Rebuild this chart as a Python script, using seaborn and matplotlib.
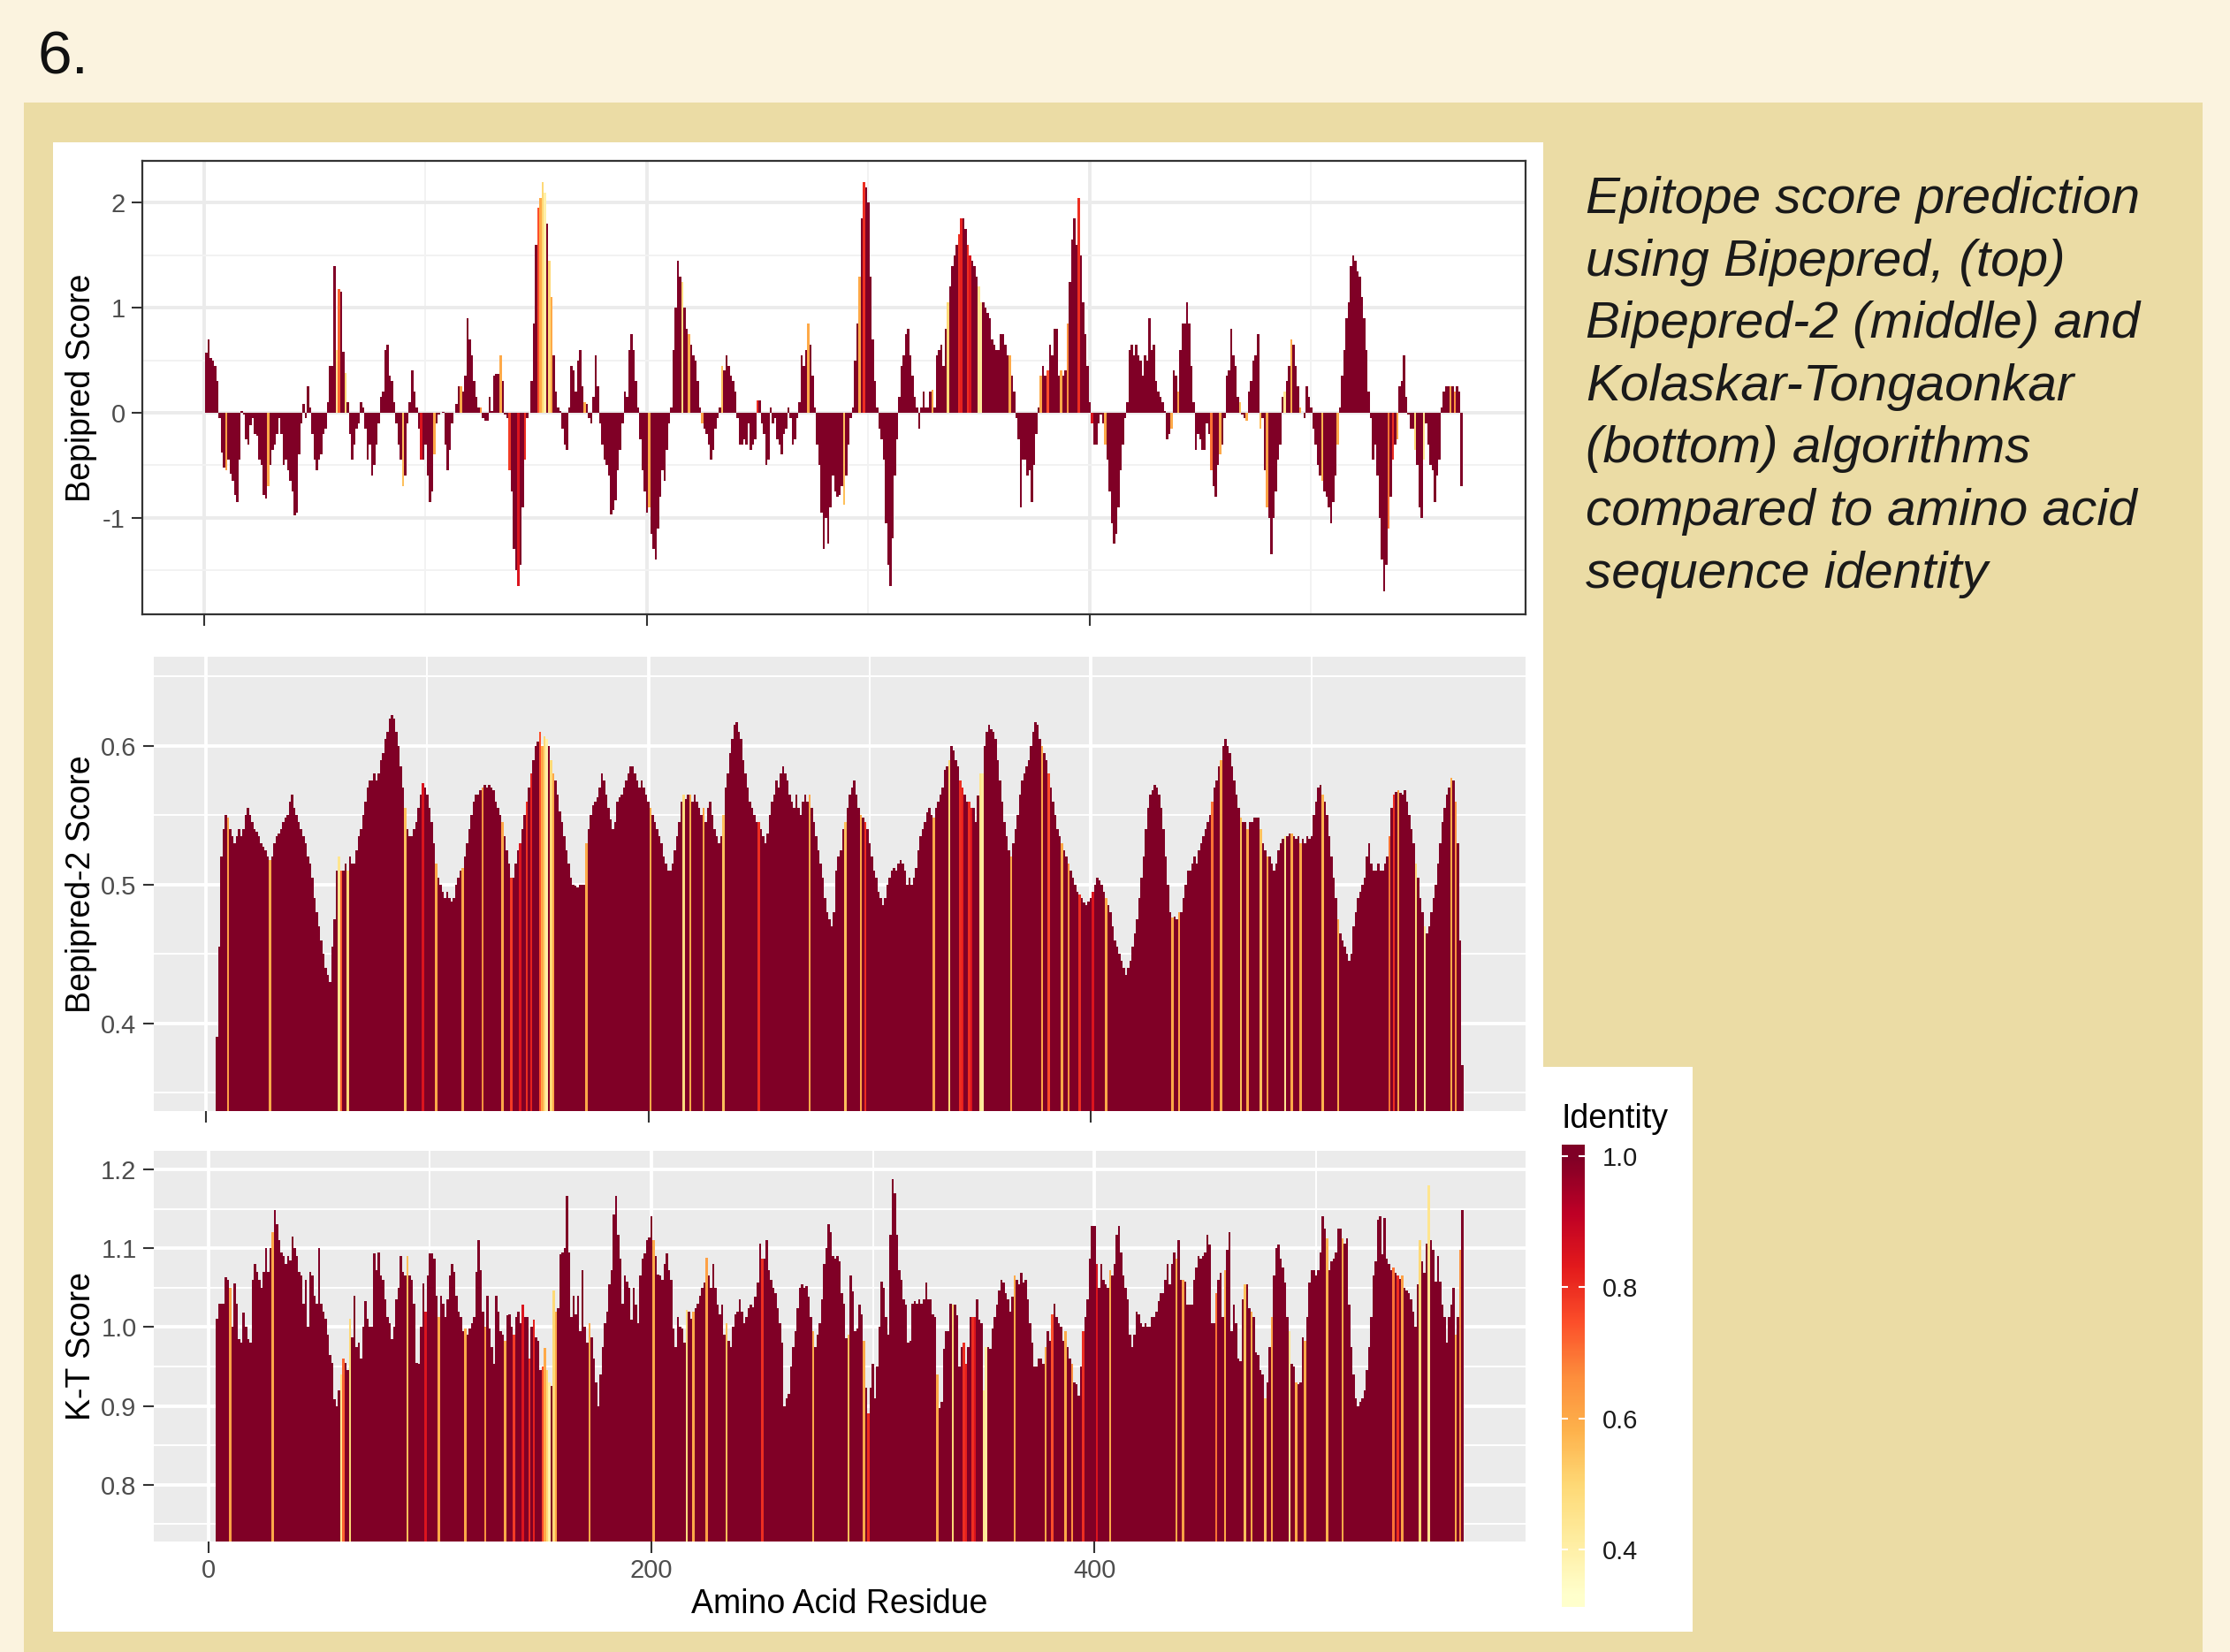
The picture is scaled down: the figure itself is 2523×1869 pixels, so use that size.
import numpy as np
import pandas as pd
import matplotlib
matplotlib.use("Agg")
import matplotlib.pyplot as plt
from matplotlib.patches import Rectangle
from matplotlib.colors import Normalize
from matplotlib.ticker import MultipleLocator
import seaborn as sns

# ---------------- data ----------------
# Bepipred score, residues 1..568
bepipred_start = 1
bepipred = [
    0.57, 0.70, 0.52, 0.50, 0.45, 0.30, -0.05, -0.38, -0.52, -0.55,
    -0.45, -0.58, -0.65, -0.78, -0.85, -0.45, 0.02, -0.02, -0.25, -0.30,
    -0.12, -0.05, -0.20, -0.22, -0.45, -0.50, -0.78, -0.82, -0.70, -0.50,
    -0.35, -0.30, -0.20, -0.05, -0.20, -0.50, -0.45, -0.55, -0.65, -0.75,
    -0.98, -0.95, -0.40, -0.10, 0.08, -0.05, 0.25, 0.05, -0.20, -0.45,
    -0.55, -0.45, -0.40, -0.20, -0.15, 0.10, 0.45, 0.45, 1.40, 0.60,
    1.18, 1.15, 0.58, 0.38, 0.10, -0.20, -0.45, -0.30, -0.15, -0.10,
    0.10, 0.05, -0.15, -0.45, -0.30, -0.60, -0.50, -0.30, -0.10, 0.15,
    0.20, 0.60, 0.65, 0.35, 0.30, 0.10, -0.10, -0.30, -0.45, -0.70,
    -0.60, -0.10, 0.10, 0.40, 0.20, 0.05, -0.15, -0.45, -0.45, -0.30,
    -0.60, -0.85, -0.75, -0.40, -0.10, -0.02, 0.00, 0.01, -0.30, -0.55,
    -0.35, -0.10, 0.00, 0.08, 0.25, 0.25, 0.20, 0.35, 0.90, 0.70,
    0.55, 0.30, 0.15, 0.05, 0.05, -0.05, -0.08, -0.08, 0.15, 0.02,
    0.35, 0.37, 0.37, 0.55, 0.30, -0.02, -0.05, -0.55, -0.75, -1.30,
    -1.50, -1.65, -1.45, -0.90, -0.45, -0.05, 0.00, 0.30, 0.85, 1.60,
    1.95, 2.05, 2.20, 2.10, 1.80, 1.45, 1.10, 0.55, 0.20, 0.05,
    0.02, -0.15, -0.30, -0.35, 0.05, 0.45, 0.40, 0.20, 0.50, 0.60,
    0.25, 0.10, 0.08, -0.05, -0.10, 0.15, 0.55, 0.25, -0.10, -0.30,
    -0.45, -0.50, -0.60, -0.97, -0.93, -0.83, -0.55, -0.35, -0.10, 0.20,
    0.15, 0.60, 0.75, 0.60, 0.30, 0.05, -0.25, -0.55, -0.75, -0.95,
    -0.90, -1.15, -1.30, -1.40, -1.10, -0.80, -0.55, -0.65, -0.35, -0.10,
    0.05, 0.60, 1.00, 1.45, 1.30, 1.25, 1.00, 0.80, 0.75, 0.65,
    0.55, 0.50, 0.30, 0.05, -0.10, -0.15, -0.20, -0.30, -0.45, -0.35,
    -0.15, -0.05, 0.05, 0.45, 0.40, 0.55, 0.45, 0.35, 0.30, 0.20,
    -0.05, -0.30, -0.30, -0.25, -0.30, -0.10, -0.35, -0.30, -0.25, 0.12,
    0.12, -0.10, -0.20, -0.50, -0.45, 0.05, -0.10, -0.05, -0.25, -0.30,
    -0.40, -0.20, -0.15, 0.05, -0.05, -0.30, -0.25, -0.05, 0.10, 0.55,
    0.45, 0.60, 0.85, 0.65, 0.35, 0.05, -0.30, -0.50, -0.95, -1.30,
    -1.00, -1.25, -0.90, -0.60, -0.75, -0.80, -0.78, -0.70, -0.88, -0.60,
    -0.30, -0.05, 0.05, 0.50, 0.85, 1.30, 1.85, 2.20, 2.15, 2.00,
    1.30, 0.70, 0.30, 0.05, -0.15, -0.25, -0.45, -1.05, -1.45, -1.65,
    -1.20, -0.60, -0.25, 0.15, 0.45, 0.55, 0.75, 0.80, 0.55, 0.35,
    0.15, 0.05, -0.15, 0.05, 0.20, 0.05, 0.05, 0.20, 0.22, 0.05,
    0.55, 0.60, 0.65, 0.45, 0.80, 1.05, 1.20, 1.40, 1.50, 1.60,
    1.70, 1.85, 1.85, 1.75, 1.60, 1.50, 1.45, 1.40, 1.30, 1.20,
    1.05, 1.05, 1.00, 0.95, 0.90, 0.70, 0.65, 0.60, 0.60, 0.75,
    0.75, 0.65, 0.55, 0.55, 0.35, 0.20, -0.05, -0.25, -0.90, -0.45,
    -0.45, -0.60, -0.55, -0.85, -0.50, -0.20, 0.05, 0.35, 0.45, 0.35,
    0.40, 0.65, 0.55, 0.80, 0.80, 0.35, 0.40, 0.35, 0.40, 0.85,
    1.25, 1.65, 1.85, 1.60, 2.05, 1.50, 1.05, 0.75, 0.45, 0.10,
    -0.10, -0.30, -0.30, -0.10, -0.02, -0.10, -0.30, -0.45, -0.75, -1.05,
    -1.25, -1.15, -0.90, -0.55, -0.30, -0.05, 0.10, 0.60, 0.65, 0.55,
    0.65, 0.55, 0.50, 0.35, 0.55, 0.50, 0.90, 0.60, 0.65, 0.30,
    0.20, 0.15, 0.10, 0.02, -0.25, -0.20, -0.15, 0.40, 0.35, 0.20,
    0.60, 0.85, 0.85, 1.05, 0.85, 0.45, 0.10, -0.35, -0.20, -0.25,
    -0.35, -0.35, -0.10, -0.20, -0.55, -0.70, -0.80, -0.50, -0.40, -0.30,
    -0.05, 0.35, 0.40, 0.80, 0.55, 0.45, 0.15, 0.10, -0.02, -0.05,
    -0.08, 0.20, 0.30, 0.50, 0.55, 0.75, -0.15, -0.05, -0.55, -0.90,
    -1.00, -1.35, -1.00, -0.75, -0.45, -0.30, 0.15, 0.20, 0.30, 0.45,
    0.70, 0.65, 0.45, 0.25, 0.05, 0.00, -0.05, 0.25, 0.15, 0.05,
    -0.15, -0.30, -0.50, -0.60, -0.65, -0.75, -0.80, -0.90, -1.05, -0.85,
    -0.60, -0.30, 0.05, 0.35, 0.60, 0.90, 1.05, 1.40, 1.50, 1.45,
    1.35, 1.30, 1.10, 0.90, 0.60, 0.20, -0.05, -0.45, -0.30, -0.60,
    -1.00, -1.40, -1.70, -1.45, -1.10, -0.80, -0.45, -0.30, -0.25, 0.25,
    0.30, 0.55, 0.15, -0.02, -0.15, -0.15, -0.35, -0.50, -0.90, -1.00,
    -0.45, -0.10, -0.30, -0.50, -0.55, -0.85, -0.60, -0.45, 0.05, 0.20,
    0.25, 0.25, 0.25, 0.25, 0.20, 0.25, 0.20, -0.70,
]

# Bepipred-2 score, residues 5..568
bepipred2_start = 5
bepipred2 = [
    0.39, 0.455, 0.52, 0.54, 0.55, 0.548, 0.54, 0.535, 0.53, 0.535,
    0.54, 0.535, 0.54, 0.55, 0.555, 0.55, 0.545, 0.54, 0.538, 0.535,
    0.53, 0.527, 0.525, 0.52, 0.518, 0.52, 0.53, 0.535, 0.537, 0.54,
    0.545, 0.548, 0.55, 0.56, 0.565, 0.555, 0.55, 0.545, 0.54, 0.535,
    0.53, 0.52, 0.515, 0.505, 0.49, 0.48, 0.47, 0.46, 0.45, 0.44,
    0.435, 0.43, 0.455, 0.475, 0.51, 0.52, 0.51, 0.51, 0.515, 0.51,
    0.52, 0.515, 0.515, 0.525, 0.535, 0.54, 0.55, 0.56, 0.57, 0.575,
    0.575, 0.58, 0.575, 0.58, 0.59, 0.595, 0.605, 0.61, 0.62, 0.622,
    0.62, 0.61, 0.60, 0.585, 0.57, 0.555, 0.54, 0.535, 0.535, 0.54,
    0.545, 0.555, 0.565, 0.573, 0.57, 0.565, 0.555, 0.545, 0.53, 0.515,
    0.505, 0.50, 0.495, 0.49, 0.495, 0.49, 0.488, 0.49, 0.50, 0.505,
    0.51, 0.512, 0.52, 0.53, 0.54, 0.55, 0.56, 0.565, 0.565, 0.568,
    0.57, 0.572, 0.57, 0.572, 0.57, 0.568, 0.56, 0.555, 0.55, 0.545,
    0.535, 0.525, 0.515, 0.505,
    0.505,
    0.515, 0.525, 0.53, 0.54, 0.55, 0.56, 0.57, 0.58, 0.59, 0.60,
    0.603, 0.61, 0.60, 0.607, 0.605, 0.60, 0.59, 0.58, 0.575, 0.565,
    0.553, 0.545, 0.535, 0.525, 0.515, 0.505, 0.50, 0.499, 0.498, 0.50,
    0.50, 0.50, 0.53, 0.54, 0.55, 0.557, 0.56, 0.563, 0.57, 0.58,
    0.575, 0.565, 0.555, 0.547, 0.54, 0.545, 0.56, 0.563, 0.565, 0.57,
    0.575, 0.58, 0.585, 0.585, 0.58, 0.575, 0.57, 0.575, 0.57, 0.565,
    0.56, 0.555, 0.55, 0.545, 0.54, 0.535, 0.53, 0.52, 0.515, 0.51,
    0.51, 0.515, 0.525, 0.535, 0.545, 0.56, 0.565, 0.562, 0.565, 0.565,
    0.56, 0.565, 0.56, 0.555, 0.55, 0.555, 0.545, 0.555, 0.56, 0.55,
    0.54, 0.535, 0.53, 0.535, 0.55, 0.57, 0.58, 0.595, 0.605, 0.615,
    0.617, 0.61, 0.605, 0.59, 0.58, 0.57, 0.56, 0.555, 0.55, 0.545,
    0.545, 0.54, 0.535, 0.53, 0.537, 0.55, 0.56, 0.565, 0.575, 0.57,
    0.58, 0.585, 0.58, 0.575, 0.565, 0.56, 0.555, 0.565, 0.555, 0.55,
    0.56, 0.565, 0.56, 0.565, 0.555, 0.545, 0.535, 0.525, 0.515, 0.505,
    0.49, 0.48, 0.475, 0.47,
    0.48, 0.51, 0.52, 0.525, 0.54, 0.545, 0.555, 0.565, 0.57, 0.575,
    0.565, 0.555, 0.55, 0.548, 0.545, 0.54, 0.53, 0.52, 0.51, 0.505,
    0.495, 0.49, 0.485, 0.49, 0.50, 0.505, 0.51, 0.512, 0.51, 0.515,
    0.518, 0.515, 0.51, 0.50, 0.505, 0.50, 0.505, 0.512, 0.525, 0.535,
    0.54, 0.545, 0.552, 0.555, 0.55, 0.548, 0.555, 0.56, 0.565, 0.57,
    0.583, 0.585, 0.59, 0.60, 0.597, 0.59, 0.585, 0.575, 0.57, 0.565,
    0.56, 0.56, 0.555, 0.555, 0.545, 0.564, 0.58, 0.58, 0.60, 0.61,
    0.615, 0.612, 0.61, 0.605, 0.59, 0.575, 0.56, 0.545, 0.535, 0.525,
    0.52, 0.53, 0.54, 0.55, 0.565, 0.575, 0.58, 0.585, 0.59, 0.60,
    0.61, 0.617, 0.615, 0.605, 0.60, 0.595, 0.59, 0.58, 0.57, 0.56,
    0.55, 0.54, 0.535, 0.53, 0.525, 0.52, 0.515, 0.51, 0.505, 0.50,
    0.495, 0.493, 0.49, 0.487, 0.485, 0.488, 0.49, 0.495, 0.50, 0.505,
    0.503, 0.50, 0.495, 0.49, 0.485, 0.48, 0.47, 0.46, 0.455, 0.45,
    0.445, 0.44, 0.435, 0.44, 0.445, 0.455, 0.465, 0.475, 0.49, 0.505,
    0.52, 0.54, 0.555, 0.565,
    0.568, 0.572, 0.57, 0.565, 0.555, 0.54, 0.52, 0.50, 0.48, 0.476,
    0.477, 0.475, 0.48, 0.48, 0.49, 0.50, 0.51, 0.51, 0.515, 0.52,
    0.515, 0.525, 0.53, 0.535, 0.54, 0.545, 0.55, 0.56, 0.57, 0.575,
    0.585, 0.59, 0.60, 0.605, 0.60, 0.595, 0.585, 0.575, 0.565, 0.555,
    0.548, 0.545, 0.545, 0.54, 0.545, 0.545, 0.548, 0.548, 0.548, 0.54,
    0.53, 0.525, 0.52, 0.52, 0.515, 0.51, 0.515, 0.525, 0.53, 0.533,
    0.535, 0.535, 0.537, 0.537, 0.535, 0.533, 0.535, 0.53, 0.533, 0.53,
    0.535, 0.533, 0.535, 0.55, 0.56, 0.57, 0.572, 0.565, 0.56, 0.55,
    0.535, 0.52, 0.505, 0.49, 0.475, 0.465, 0.46, 0.455, 0.45, 0.445,
    0.45, 0.47, 0.48, 0.49, 0.495, 0.50, 0.505, 0.52, 0.53, 0.515,
    0.51, 0.51, 0.515, 0.51, 0.51, 0.515, 0.52, 0.535, 0.555, 0.565,
    0.567, 0.568, 0.566, 0.565, 0.568, 0.56, 0.55, 0.54, 0.53, 0.515,
    0.505, 0.49, 0.48, 0.47, 0.465, 0.47, 0.48, 0.49, 0.50, 0.515,
    0.53, 0.545, 0.555, 0.565, 0.57, 0.577, 0.575, 0.56, 0.53, 0.46,
    0.37,
]

# Kolaskar-Tongaonkar score, residues 4..566
kt_start = 4
kt = [
    1.01, 1.03, 1.03, 1.03, 1.063, 1.06, 1.05, 1.0, 1.055, 1.03,
    0.985, 0.98, 1.018, 1.0, 0.985, 0.98, 1.06, 1.08, 1.07, 1.06,
    1.05, 1.07, 1.10, 1.07, 1.10, 1.12, 1.148, 1.13, 1.11, 1.095,
    1.09, 1.08, 1.09, 1.085, 1.115, 1.10, 1.09, 1.07, 1.065, 1.03,
    1.06, 1.0, 1.07, 1.065, 1.04, 1.03, 1.10, 1.03, 1.02, 1.01,
    0.99, 0.965, 0.955, 0.908, 0.90, 0.92, 0.94, 0.96, 0.955, 0.945,
    1.01, 0.987, 1.04, 0.975, 0.98, 0.96, 1.0, 1.033, 1.01, 1.0,
    1.0, 1.093, 1.072, 1.095, 1.065, 1.06, 1.035, 1.013, 1.005, 0.985,
    1.0, 1.035, 1.05, 1.09, 1.07, 1.065, 1.09, 1.065, 1.06, 1.03,
    0.955, 0.953, 1.0, 1.055, 1.02, 1.065, 1.093, 1.093, 1.087, 1.04,
    1.013, 1.04, 1.03, 1.013, 1.035, 1.065, 1.08, 1.07, 1.04, 1.02,
    1.013, 0.995, 0.998, 0.99, 0.998, 1.005, 1.013, 1.07, 1.11, 1.072,
    1.02, 1.0, 1.04, 0.998, 0.975, 0.953, 1.04, 1.02, 0.995, 0.99,
    0.983, 1.015, 1.016, 1.0, 0.99, 1.013, 1.02, 1.005, 1.028, 1.013,
    1.013, 0.96, 1.0, 1.009, 0.987, 0.983, 0.946, 0.95, 0.973, 0.946,
    0.93, 0.925, 1.046, 1.02, 1.024, 1.092, 1.095, 1.1, 1.166, 1.095,
    1.013, 1.04, 1.016, 1.04, 0.995, 1.072, 1.0, 0.98, 1.005, 0.987,
    0.96, 0.93, 0.9, 0.94, 0.975, 1.005, 1.02, 1.054, 1.072, 1.143,
    1.166, 1.117, 1.087, 1.03, 1.065, 1.058, 1.05, 1.009, 1.05, 1.028,
    1.005, 1.065, 1.087, 1.093, 1.11, 1.114, 1.14, 1.11, 1.09, 1.067,
    1.065, 1.06, 1.08, 1.093, 1.072, 1.06, 0.998, 0.975, 1.013, 1.0,
    0.998, 0.98, 1.022, 1.02, 1.01, 1.02, 1.024, 1.03, 1.04, 1.05,
    1.057, 1.088, 1.065, 1.05, 1.08, 1.05, 1.028, 1.016, 1.028, 0.99,
    1.005, 0.983, 0.975, 1.0, 1.016, 1.02, 1.035, 1.02, 1.005, 1.013,
    1.024, 1.028, 1.025, 1.039, 1.057, 1.106, 1.087, 1.087, 1.11, 1.072,
    1.06, 1.05, 1.043, 1.024, 1.005, 0.98, 0.9, 0.91, 0.915, 0.95,
    0.975, 0.995, 1.024, 1.05, 1.054, 1.05, 1.052, 1.039, 1.013, 0.995,
    0.975, 0.99, 1.005, 1.035, 1.08, 1.1, 1.13, 1.12, 1.09, 1.087,
    1.09, 1.083, 1.043, 1.03, 0.986, 0.99, 1.065, 1.045, 0.995, 0.998,
    1.028, 1.016, 0.983, 0.923, 0.89, 0.923, 0.953, 0.91, 0.95, 1.0,
    1.058, 1.05, 1.013, 0.99, 1.117, 1.188, 1.17, 1.117, 1.072, 1.06,
    1.035, 1.028, 0.98, 0.983, 1.03, 1.033, 1.03, 1.035, 1.03, 1.035,
    1.057, 1.035, 1.035, 1.016, 1.013, 0.94, 0.897, 0.905, 0.972, 0.995,
    0.995, 1.03, 1.028, 1.028, 1.015, 0.95, 0.975, 0.98, 0.953, 0.975,
    1.013, 1.013, 1.013, 1.035, 1.009, 1.005, 0.92, 0.975, 0.975, 0.972,
    0.998, 1.013, 1.028, 1.046, 1.06, 1.056, 1.043, 1.035, 1.02, 1.039,
    1.065, 1.06, 1.054, 1.069, 1.057, 1.06, 1.035, 1.005, 0.98, 0.95,
    0.95, 0.96, 0.96, 0.953, 0.975, 0.995, 0.983, 1.016, 1.03, 1.013,
    1.005, 1.0, 0.983, 0.995, 0.975, 0.96, 0.953, 0.93, 0.927, 0.913,
    0.95, 0.995, 1.013, 1.035, 1.087, 1.128, 1.128, 1.08, 1.05, 1.08,
    1.06, 1.054, 1.05, 1.072, 1.065, 1.08, 1.117, 1.128, 1.095, 1.065,
    1.05, 1.035, 0.99, 0.975, 0.99, 1.02, 1.016, 1.005, 1.0, 1.005,
    1.0, 1.0, 1.013, 1.013, 1.02, 1.033, 1.043, 1.043, 1.06, 1.08,
    1.054, 1.08, 1.095, 1.087, 1.11, 1.06, 1.06, 1.058, 1.028, 1.028,
    1.028, 1.06, 1.076, 1.09, 1.087, 1.09, 1.095, 1.117, 1.105, 1.005,
    1.005, 1.043, 1.06, 1.069, 1.013, 1.072, 1.098, 1.12, 0.995, 1.028,
    1.005, 0.96, 0.957, 1.035, 1.054, 1.054, 1.024, 1.02, 1.013, 0.968,
    0.965, 0.946, 0.94, 0.91, 0.93, 0.975, 1.013, 1.065, 1.1, 1.105,
    1.087, 1.076, 1.057, 1.013, 0.995, 0.953, 0.95, 0.93, 0.927, 0.93,
    0.987, 0.983, 1.013, 1.057, 1.072, 1.072, 1.065, 1.072, 1.095, 1.14,
    1.125, 1.113, 1.072, 1.083, 1.087, 1.095, 1.125, 1.125, 1.113, 1.106,
    1.113, 1.028, 0.975, 0.94, 0.91, 0.9, 0.905, 0.91, 0.92, 0.946,
    0.975, 1.013, 1.065, 1.083, 1.136, 1.14, 1.092, 1.138, 1.087, 1.08,
    1.072, 1.076, 1.069, 1.065, 1.061, 1.065, 1.05, 1.046, 1.043, 1.035,
    1.02, 1.0, 1.054, 1.11, 1.083, 1.069, 1.106, 1.18, 1.11, 1.098,
    1.058, 1.09, 1.058, 1.028, 1.013, 0.98, 1.013, 1.028, 1.05, 0.99,
    1.013, 1.098, 1.148,
]

# residues whose sequence identity is below 1.0 (all others are 1.0)
identity_low = {
    10: 0.62, 29: 0.60, 60: 0.45, 61: 0.72, 64: 0.50, 90: 0.55, 98: 0.85,
    104: 0.60, 116: 0.60, 125: 0.65, 134: 0.60, 138: 0.78, 142: 0.85,
    145: 0.80, 147: 0.82, 151: 0.75, 152: 0.60, 153: 0.50, 154: 0.40,
    156: 0.50, 157: 0.60, 172: 0.60, 201: 0.60, 216: 0.48, 219: 0.60,
    225: 0.62, 234: 0.55, 250: 0.80, 273: 0.60, 289: 0.55, 296: 0.60,
    298: 0.80, 329: 0.60, 336: 0.50, 341: 0.80, 342: 0.82, 345: 0.80,
    346: 0.85, 350: 0.45, 351: 0.42, 364: 0.60, 378: 0.60, 381: 0.75,
    387: 0.60, 390: 0.65, 395: 0.80, 401: 0.85, 407: 0.60, 437: 0.60,
    440: 0.62, 455: 0.70, 459: 0.60, 468: 0.55, 471: 0.60, 477: 0.55,
    480: 0.62, 488: 0.45, 491: 0.60, 495: 0.60, 505: 0.58, 512: 0.60,
    535: 0.70, 537: 0.80, 539: 0.62, 547: 0.50, 551: 0.45, 563: 0.60,
    565: 0.65,
}
# identity scale limits shown by the colour bar
identity_limits = (0.33, 1.0)

panel_labels = ["Bepipred Score", "Bepipred-2 Score", "K-T Score"]
caption_lines = [
    "Epitope score prediction",
    "using Bipepred, (top)",
    "Bipepred-2 (middle) and",
    "Kolaskar-Tongaonkar",
    "(bottom) algorithms",
    "compared to amino acid",
    "sequence identity",
]

# ---------------- figure ----------------
W, H = 2523, 1869
CREAM = "#FBF3DF"
TAN = "#EBDCA5"
GREY_BG = "#EBEBEB"

plt.rcParams["font.family"] = ["Liberation Sans", "DejaVu Sans"]
plt.rcParams["axes.unicode_minus"] = False


def box(l, t, r, b):
    return [l / W, 1 - b / H, (r - l) / W, (b - t) / H]


fig = plt.figure(figsize=(W / 100, H / 100), dpi=100)
fig.patch.set_facecolor(CREAM)
fig.add_artist(Rectangle((27 / W, 0), (2492 - 27) / W, 1 - 116 / H,
                         transform=fig.transFigure, facecolor=TAN,
                         edgecolor="none", zorder=0))
fig.add_artist(Rectangle((60 / W, 1 - 1846 / H), (1746 - 60) / W, (1846 - 161) / H,
                         transform=fig.transFigure, facecolor="white",
                         edgecolor="none", zorder=0))
fig.add_artist(Rectangle((1746 / W, 1 - 1846 / H), (1915 - 1746) / W, (1846 - 1207) / H,
                         transform=fig.transFigure, facecolor="white",
                         edgecolor="none", zorder=0))

fig.text(43 / W, 1 - 84 / H, "6.", fontsize=50, color="#111111", va="baseline")

norm = Normalize(vmin=identity_limits[0], vmax=identity_limits[1], clip=True)


def draw_panel(ax, start, values):
    res = np.arange(start, start + len(values))
    df = pd.DataFrame({
        "residue": res,
        "score": values,
        "identity": [identity_low.get(int(r), 1.0) for r in res],
    })
    sns.barplot(data=df, x="residue", y="score", hue="identity",
                palette="YlOrRd", hue_norm=identity_limits, native_scale=True,
                dodge=False, errorbar=None, width=1.0, saturation=1,
                linewidth=0, legend=False, antialiased=False, ax=ax)
    lo, hi = res[0] - 0.45, res[-1] + 0.45
    pad = 0.05 * (hi - lo)
    ax.set_xlim(lo - pad, hi + pad)
    ax.set_xticks([0, 200, 400])
    ax.xaxis.set_minor_locator(MultipleLocator(100))
    ax.set_xlabel("")
    ax.set_ylabel("")
    ax.set_axisbelow(True)
    ax.tick_params(which="major", length=9, width=1.5, color="#333333",
                   labelsize=21, labelcolor="#4D4D4D", pad=5)
    ax.tick_params(which="minor", length=0)


# top: theme_bw look
ax1 = fig.add_axes(box(161, 182, 1726, 695))
draw_panel(ax1, bepipred_start, bepipred)
ax1.set_ylim(-1.92, 2.40)
ax1.set_yticks([-1, 0, 1, 2])
ax1.yaxis.set_minor_locator(MultipleLocator(0.5))
ax1.set_facecolor("white")
ax1.grid(which="major", color="#EBEBEB", linewidth=2.8)
ax1.grid(which="minor", color="#F2F2F2", linewidth=1.4)
for s in ax1.spines.values():
    s.set_color("#333333")
    s.set_linewidth(1.6)
ax1.tick_params(labelbottom=False)

# middle and bottom: theme_grey look
ax2 = fig.add_axes(box(174, 743, 1726, 1257))
draw_panel(ax2, bepipred2_start, bepipred2)
ax2.set_ylim(0.3367, 0.6643)
ax2.set_yticks([0.4, 0.5, 0.6])
ax2.yaxis.set_minor_locator(MultipleLocator(0.05))
ax2.tick_params(labelbottom=False)

ax3 = fig.add_axes(box(174, 1302, 1726, 1744))
draw_panel(ax3, kt_start, kt)
ax3.set_ylim(0.728, 1.2235)
ax3.set_yticks([0.8, 0.9, 1.0, 1.1, 1.2])
ax3.set_yticklabels(["0.8", "0.9", "1.0", "1.1", "1.2"])
ax3.yaxis.set_minor_locator(MultipleLocator(0.05))

for ax in (ax2, ax3):
    ax.set_facecolor(GREY_BG)
    ax.grid(which="major", color="white", linewidth=2.8)
    ax.grid(which="minor", color="white", linewidth=1.4)
    for s in ax.spines.values():
        s.set_visible(False)

ax3.set_xlabel("Amino Acid Residue", fontsize=27, color="black", labelpad=4)

for ax, label, cy in zip((ax1, ax2, ax3), panel_labels, (439, 1000, 1523)):
    fig.text(92 / W, 1 - cy / H, label, rotation=90, ha="center", va="center",
             fontsize=27, color="black")

# colour bar legend
cax = fig.add_axes(box(1767, 1295, 1793, 1818))
cb_lo, cb_hi = 0.313, 1.017
grad = np.linspace(cb_lo, cb_hi, 300).reshape(-1, 1)
cax.imshow(grad, aspect="auto", cmap="YlOrRd", norm=norm, origin="lower",
           extent=[0, 1, cb_lo, cb_hi], interpolation="bilinear")
cax.set_xlim(0, 1)
cax.set_ylim(cb_lo, cb_hi)
cax.set_xticks([])
cax.set_yticks([0.4, 0.6, 0.8, 1.0])
cax.set_yticklabels(["0.4", "0.6", "0.8", "1.0"])
cax.tick_params(axis="y", left=True, right=True, direction="in", color="white",
                length=5, width=1.5, labelleft=False, labelright=True,
                labelsize=21, labelcolor="#1A1A1A", pad=14)
for s in cax.spines.values():
    s.set_visible(False)
fig.text(1767 / W, 1 - 1276 / H, "Identity", fontsize=27, color="black",
         va="baseline")

# caption on the right
for i, line in enumerate(caption_lines):
    fig.text(1794 / W, 1 - (241 + i * 70.6) / H, line, fontsize=42,
             style="italic", color="#1A1A1A", va="baseline")

fig.savefig("out.png", dpi=100, facecolor=fig.get_facecolor())
